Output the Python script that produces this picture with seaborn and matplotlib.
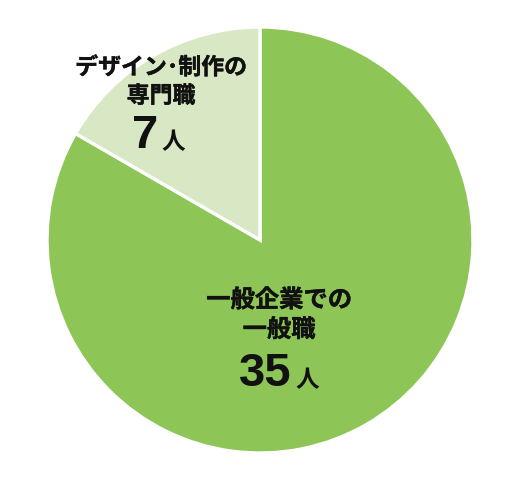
import matplotlib
matplotlib.use("Agg")
import matplotlib.pyplot as plt
import matplotlib.patheffects as pe
import seaborn as sns

categories = ["一般企業での\n一般職", "デザイン･制作の\n専門職"]
values = [35, 7]
unit = "人"
colors = ["#8DC556", "#D9E8C4"]

sns.set_theme(style="white")
plt.rcParams['font.family'] = ['Noto Sans CJK JP', 'DejaVu Sans']

fig = plt.figure(figsize=(5.2, 4.8), dpi=100)
ax = fig.add_axes([0, 0, 1, 1])
ax.pie(values, colors=colors, startangle=90, counterclock=False,
       radius=1.0, wedgeprops=dict(edgecolor="white", linewidth=2.4))
R = 213.0
ax.set_xlim(-260 / R, 260 / R)
ax.set_ylim(-240 / R, 240 / R)
ax.axis("off")

def px(x, y):
    return (x - 260) / R, (240 - y) / R

# (label center x, label center y, font size, number anchor x, baseline y)
label_pos = [(279, 315, 17.5, 292, 386), (161, 82, 16.5, 158, 148)]
stroke = [pe.withStroke(linewidth=0.3, foreground="#111111")]
for cat, val, (cx, ty, fs, nx, by) in zip(categories, values, label_pos):
    x, y = px(cx, ty)
    ax.text(x, y, cat, ha="center", va="center", fontsize=fs,
            fontweight="bold", color="#111111", linespacing=1.3,
            path_effects=stroke)
    x2, y2 = px(nx, by)
    ax.text(x2, y2, str(val), ha="right", va="baseline",
            fontsize=34, fontweight="bold", color="#111111",
            family=['Liberation Sans', 'DejaVu Sans'])
    x3, y3 = px(nx + 3, by + 1)
    ax.text(x3, y3, unit, ha="left", va="baseline",
            fontsize=17, fontweight="bold", color="#111111")

fig.savefig("out.png", dpi=100)
